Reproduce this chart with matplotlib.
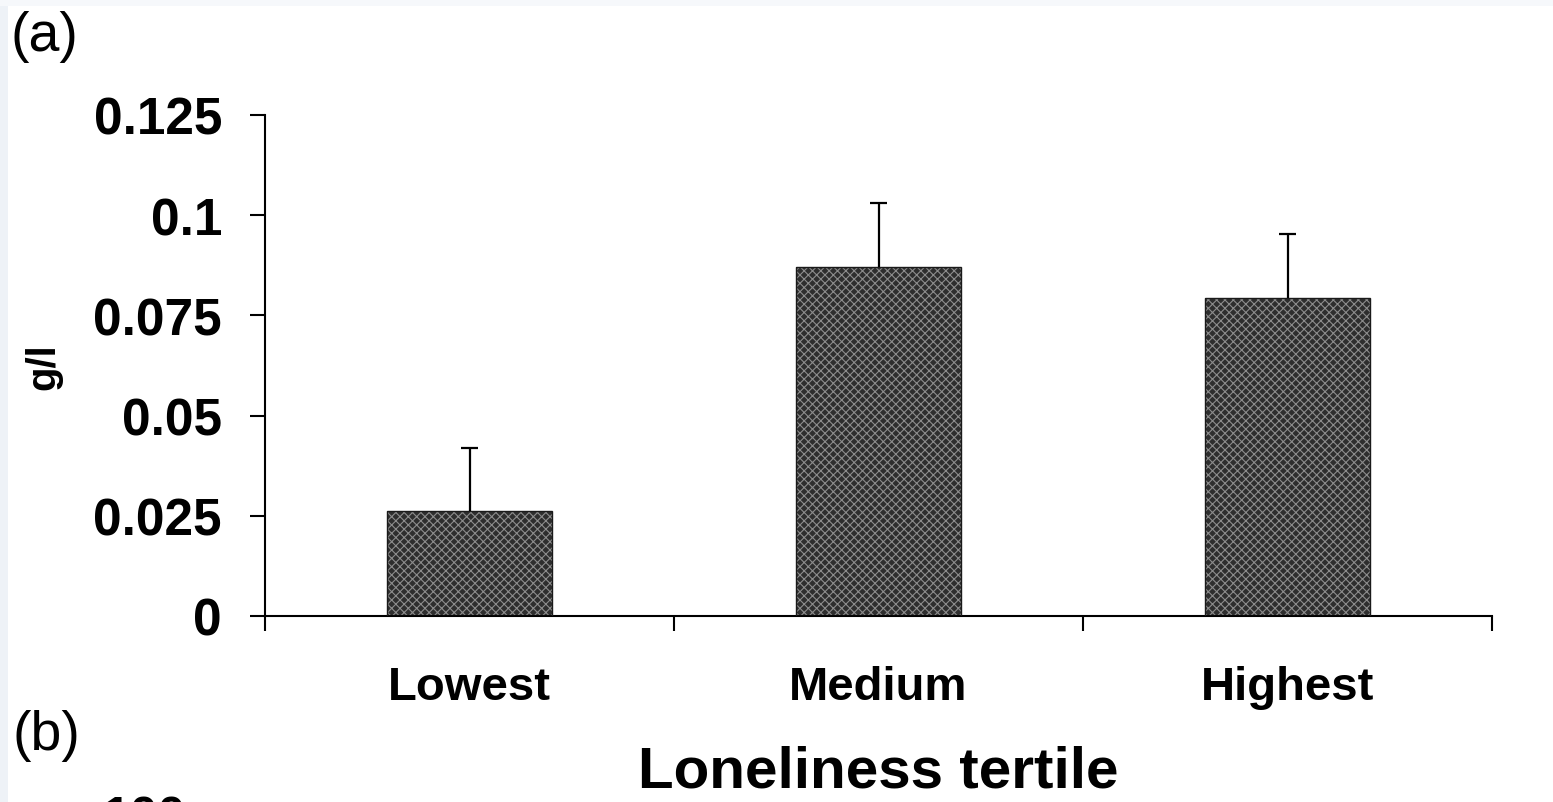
import numpy as np
import matplotlib
matplotlib.use('Agg')
import matplotlib.pyplot as plt
from matplotlib.patches import Rectangle

plt.rcParams['font.family'] = ['Liberation Sans', 'DejaVu Sans']
plt.rcParams['hatch.linewidth'] = 0.8

# data
categories = ['Lowest', 'Medium', 'Highest']
means = [0.0262, 0.0871, 0.0793]
errors = [0.0157, 0.0159, 0.0160]
yticks = [0, 0.025, 0.05, 0.075, 0.1, 0.125]
ytick_labels = ['0', '0.025', '0.05', '0.075', '0.1', '0.125']

fig = plt.figure(figsize=(15.53, 8.03), dpi=100)
fig.patch.set_facecolor('white')

# light scan border on the left and top
fig.patches.append(Rectangle((0, 0), 8 / 1553, 1, transform=fig.transFigure,
                             facecolor='#eef2f7', edgecolor='none', zorder=-1))
fig.patches.append(Rectangle((0, 1 - 7 / 803), 1, 7 / 803, transform=fig.transFigure,
                             facecolor='#f6f8fb', edgecolor='none', zorder=-1))

ax = fig.add_axes([265 / 1553, 1 - 617 / 803, (1492 - 265) / 1553, (617 - 116) / 803])

x = np.arange(len(categories))
means = np.array(means)
tops = means + np.array(errors)
ax.bar(x, means, width=0.405, color='#2e2e2e', hatch='xxxx', edgecolor='#8c8c8c',
       linewidth=0, zorder=2)
ax.bar(x, means, width=0.405, fill=False, edgecolor='#1a1a1a', linewidth=1.0, zorder=3)
# upper error bars only, with caps
ax.vlines(x, means, tops, color='black', linewidth=1.6, zorder=4)
ax.hlines(tops, x - 0.02, x + 0.02, color='black', linewidth=1.6, zorder=4)

ax.set_xlim(-0.5, 2.5)
ax.set_ylim(0, 0.125)
ax.set_yticks(yticks)
ax.set_yticklabels(ytick_labels, fontsize=37, fontweight='bold')
ax.set_xticks(x)
ax.set_xticklabels(categories, fontsize=34, fontweight='bold')
ax.set_xticks([-0.5, 0.5, 1.5, 2.5], minor=True)
ax.tick_params(axis='x', which='major', length=0, pad=35)
ax.tick_params(axis='x', which='minor', length=11, width=1.5, direction='out')
ax.tick_params(axis='y', length=11, width=1.5, direction='out', pad=20)

for s in ['top', 'right']:
    ax.spines[s].set_visible(False)
for s in ['left', 'bottom']:
    ax.spines[s].set_linewidth(1.5)

fig.text(878 / 1553, 15 / 803, 'Loneliness tertile', fontsize=42, fontweight='bold',
         ha='center', va='baseline')
fig.text(43 / 1553, 1 - 367 / 803, 'g/l', fontsize=29, fontweight='bold',
         rotation=90, ha='center', va='center')
fig.text(11 / 1553, 1 - 11 / 803, '(a)', fontsize=40, ha='left', va='top')
fig.text(13 / 1553, 1 - 710 / 803, '(b)', fontsize=40, ha='left', va='top')
# top of the next panel's tick label, cut by the lower edge (as in the reference)
fig.text(186 / 1553, -29 / 803, '100', fontsize=36, fontweight='bold',
         ha='right', va='baseline')

fig.savefig('out.png', dpi=100)
